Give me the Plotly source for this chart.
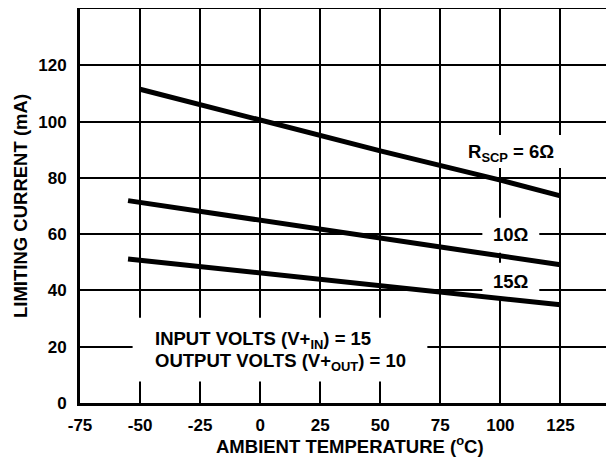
import plotly.graph_objects as go

# Data
temp_6 = [-50, 0, 50, 100, 125]
cur_6 = [111.5, 100.6, 89.6, 79.2, 73.6]
temp_10 = [-55, 0, 50, 100, 125]
cur_10 = [71.9, 64.9, 58.6, 52.2, 49.1]
temp_15 = [-55, 0, 50, 100, 125]
cur_15 = [51.2, 46.2, 41.7, 37.2, 34.9]

x_ticks = [-75, -50, -25, 0, 25, 50, 75, 100, 125]
y_ticks = [0, 20, 40, 60, 80, 100, 120]

FONT = "Liberation Sans"
BLACK = "#000000"

fig = go.Figure()
for xs, ys in [(temp_6, cur_6), (temp_10, cur_10), (temp_15, cur_15)]:
    fig.add_trace(go.Scatter(x=xs, y=ys, mode="lines",
                             line=dict(color=BLACK, width=5),
                             showlegend=False, hoverinfo="skip"))

# white label backgrounds that interrupt the grid (between grid and traces)
boxes = [
    (-53.1, 69.6, 7.6, 30.3),
    (82.5, 127.5, 83.5, 95.2),
    (92.5, 116.2, 53.4, 65.8),
    (92.5, 116.2, 37.8, 49.8),
]
for x0, x1, y0, y1 in boxes:
    fig.add_shape(type="rect", xref="x", yref="y", x0=x0, x1=x1, y0=y0, y1=y1,
                  fillcolor="white", line=dict(width=0), layer="between")

lab_font = dict(family=FONT, size=18.5, color=BLACK, weight="bold")
fig.add_annotation(x=-44.8, y=22.3, xref="x", yref="y", xanchor="left", yanchor="middle",
                   text="INPUT VOLTS (V+<sub>IN</sub>) = 15",
                   showarrow=False, align="left", font=lab_font)
fig.add_annotation(x=-44.8, y=14.5, xref="x", yref="y", xanchor="left", yanchor="middle",
                   text="OUTPUT VOLTS (V+<sub>OUT</sub>) = 10",
                   showarrow=False, align="left", font=lab_font)
fig.add_annotation(x=104.6, y=88.8, xref="x", yref="y",
                   text="R<sub>SCP</sub> = 6\u03a9", showarrow=False, font=lab_font)
fig.add_annotation(x=104.4, y=59.8, xref="x", yref="y",
                   text="10\u03a9", showarrow=False, font=lab_font)
fig.add_annotation(x=104.4, y=43.1, xref="x", yref="y",
                   text="15\u03a9", showarrow=False, font=lab_font)

# axis titles
title_font = dict(family=FONT, size=18.5, color=BLACK, weight="bold")
fig.add_annotation(x=37.6, y=-0.106, xref="x", yref="paper", yanchor="middle",
                   text="AMBIENT TEMPERATURE (<sup>o</sup>C)", showarrow=False, font=title_font)
fig.add_annotation(x=-0.1124, y=0.5, xref="paper", yref="paper", xanchor="center", yanchor="middle",
                   textangle=-90, text="LIMITING CURRENT (mA)", showarrow=False, font=title_font)

tick_font = dict(family=FONT, size=17, color=BLACK, weight="bold")
fig.update_xaxes(range=[-75, 147.3], tickvals=x_ticks, ticktext=[str(v) for v in x_ticks],
                 showgrid=True, gridcolor=BLACK, gridwidth=2, zeroline=False,
                 showline=True, linecolor=BLACK, linewidth=3, mirror=True,
                 ticks="", tickfont=tick_font, ticklabelstandoff=5, automargin=False)
fig.update_yaxes(range=[0, 140], tickvals=y_ticks, ticktext=[str(v) for v in y_ticks],
                 showgrid=True, gridcolor=BLACK, gridwidth=2, zeroline=False,
                 showline=True, linecolor=BLACK, linewidth=3, mirror=False,
                 ticks="", tickfont=tick_font, ticklabelstandoff=7, automargin=False)

# page body has an 8px margin, so the figure is sized to end at the window edge
fig.update_layout(width=606, height=455, margin=dict(l=72, r=0, t=1, b=60),
                  plot_bgcolor="white", paper_bgcolor="white", showlegend=False)

fig.write_html("out.html")
